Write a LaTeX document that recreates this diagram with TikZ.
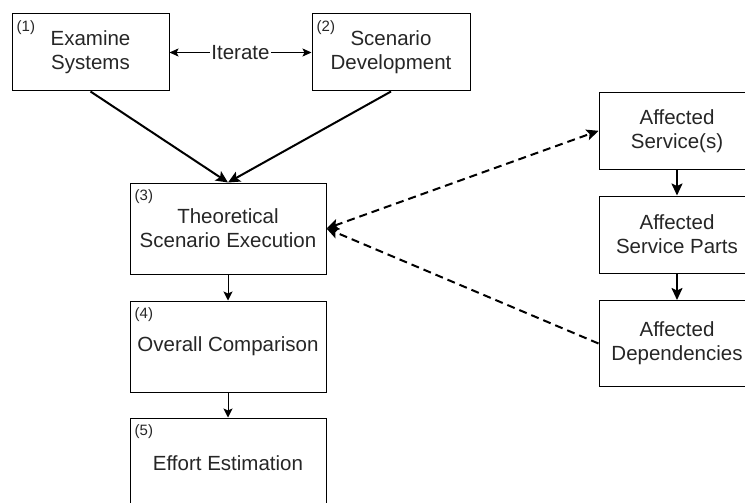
\documentclass[tikz,border=0pt]{standalone}
\usepackage{fontspec}
\setmainfont{Liberation Sans}
\usetikzlibrary{arrows.meta}

\tikzset{
  box/.style={draw=black, line width=1pt, rectangle, align=center,
    text=black!85, font=\fontsize{20.5}{24}\selectfont, inner sep=0pt},
  tag/.style={anchor=north west, inner sep=0pt, text=black!85,
    font=\fontsize{15}{17}\selectfont},
  thin arrow/.style={line width=1pt, -{Stealth[length=9pt,width=9pt,inset=2pt]}},
  thick arrow/.style={line width=2pt, -{Stealth[length=12pt,width=11pt,inset=2.5pt]}},
  dash link/.style={line width=2pt, dash pattern=on 8pt off 5pt},
  dash both/.style={{Stealth[length=12pt,width=11pt,inset=2.5pt]}-{Stealth[length=12pt,width=11pt,inset=2.5pt]}},
  dash end/.style={-{Stealth[length=12pt,width=11pt,inset=2.5pt]}},
}

\begin{document}
\begin{tikzpicture}[x=1pt, y=-1pt]
  \useasboundingbox (0,0) rectangle (745,503);
  \clip (0,0) rectangle (745,503);

  % main process boxes
  \node[box, minimum width=157pt, minimum height=77pt] (b1) at (90.5,52.5) {Examine\\Systems};
  \node[box, minimum width=158pt, minimum height=77pt] (b2) at (391,52.5) {Scenario\\Development};
  \node[box, minimum width=196pt, minimum height=91pt] (b3) at (228,228.5) {Theoretical\\Scenario Execution};
  \node[box, minimum width=196pt, minimum height=91pt] (b4) at (228,346.5) {Overall Comparison};
  \node[box, minimum width=196pt, minimum height=91pt] (b5) at (228,463.5) {Effort Estimation};

  % step numbers
  \node[tag] (t1) at ([xshift=5pt,yshift=-7pt]b1.north west) {(1)};
  \node[tag] (t2) at ([xshift=5pt,yshift=-7pt]b2.north west) {(2)};
  \node[tag] (t3) at ([xshift=5pt,yshift=-7pt]b3.north west) {(3)};
  \node[tag] (t4) at ([xshift=5pt,yshift=-7pt]b4.north west) {(4)};
  \node[tag] (t5) at ([xshift=5pt,yshift=-7pt]b5.north west) {(5)};

  % affected elements column
  \node[box, minimum width=156pt, minimum height=77pt] (ra) at (677,130.8) {Affected\\Service(s)};
  \node[box, minimum width=156pt, minimum height=77pt] (rb) at (677,234.5) {Affected\\Service Parts};
  \node[box, minimum width=156pt, minimum height=86pt] (rc) at (677,343.5) {Affected\\Dependencies};

  % iteration between steps 1 and 2
  \draw[line width=1pt, {Stealth[length=9pt,width=8pt,inset=2pt]}-{Stealth[length=9pt,width=8pt,inset=2pt]}]
    (b1.east) -- node[fill=white, inner sep=1pt, text=black!85,
      font=\fontsize{20.5}{24}\selectfont] (it) {Iterate} (b2.west);

  % flow of the main process
  \draw[thick arrow] (b1.south) -- (b3.north);
  \draw[thick arrow] (b2.south) -- (b3.north);
  \draw[thin arrow] (b3.south) -- (b4.north);
  \draw[thin arrow] (b4.south) -- (b5.north);

  % flow of the affected elements
  \draw[thick arrow] (ra.south) -- (rb.north);
  \draw[thick arrow] (rb.south) -- (rc.north);

  % links between execution and affected elements
  \draw[dash link, dash both] (b3.east) -- (ra.west);
  \draw[dash link, dash end] (rc.west) -- (b3.east);
\end{tikzpicture}
\end{document}
